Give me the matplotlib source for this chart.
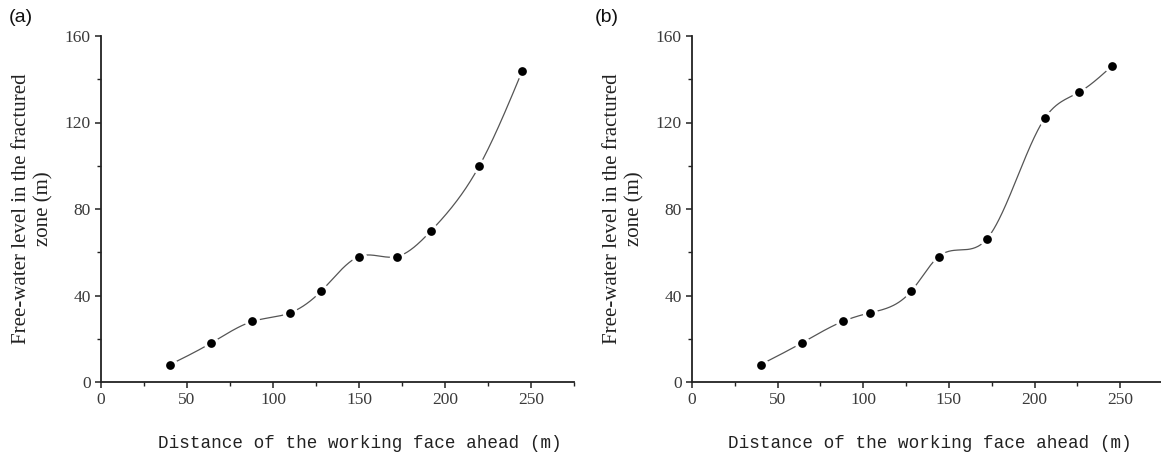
import numpy as np
import matplotlib
matplotlib.use("Agg")
import matplotlib.pyplot as plt
from matplotlib.ticker import MultipleLocator

# ---- data ----
dist_a = [40, 64, 88, 110, 128, 150, 172, 192, 220, 245]
level_a = [8, 18, 28, 32, 42, 58, 58, 70, 100, 144]
dist_b = [40, 64, 88, 104, 128, 144, 172, 206, 226, 245]
level_b = [8, 18, 28, 32, 42, 58, 66, 122, 134, 146]

x_ticks = [0, 50, 100, 150, 200, 250]
y_ticks = [0, 40, 80, 120, 160]
x_label = "Distance of the working face ahead (m)"
y_label = "Free-water level in the fractured\nzone (m)"
panels = ["(a)", "(b)"]


def natural_spline(x, y, n=400):
    x = np.asarray(x, float)
    y = np.asarray(y, float)
    m = len(x)
    h = np.diff(x)
    A = np.zeros((m, m))
    r = np.zeros(m)
    A[0, 0] = 1
    A[-1, -1] = 1
    for i in range(1, m - 1):
        A[i, i - 1] = h[i - 1]
        A[i, i] = 2 * (h[i - 1] + h[i])
        A[i, i + 1] = h[i]
        r[i] = 6 * ((y[i + 1] - y[i]) / h[i] - (y[i] - y[i - 1]) / h[i - 1])
    M = np.linalg.solve(A, r)
    xs = np.linspace(x[0], x[-1], n)
    idx = np.clip(np.searchsorted(x, xs) - 1, 0, m - 2)
    x0, x1 = x[idx], x[idx + 1]
    hh = x1 - x0
    t0 = x1 - xs
    t1 = xs - x0
    ys = (M[idx] * t0 ** 3 / (6 * hh) + M[idx + 1] * t1 ** 3 / (6 * hh)
          + (y[idx] / hh - M[idx] * hh / 6) * t0
          + (y[idx + 1] / hh - M[idx + 1] * hh / 6) * t1)
    return xs, ys


fig = plt.figure(figsize=(11.61, 4.59), dpi=100)
W, H = 1161, 459

axes_px = [(101, 574), (692, 1163)]
y_top, y_bot = 36, 382
xlabel_centers = [360, 930]
panel_x = [9, 595]

for k, (dx, dy) in enumerate([(dist_a, level_a), (dist_b, level_b)]):
    l, r = axes_px[k]
    ax = fig.add_axes([l / W, 1 - y_bot / H, (r - l) / W, (y_bot - y_top) / H])
    xs, ys = natural_spline(dx, dy)
    ax.plot(xs, ys, color="#555555", lw=0.9, zorder=2)
    ax.plot(dx, dy, 'o', ms=11, color="white", mec="none", zorder=3)
    ax.plot(dx, dy, 'o', ms=6.3, color="black", mec="none", zorder=4)
    ax.set_xlim(0, 275)
    ax.set_ylim(0, 160)
    ax.set_xticks(x_ticks)
    ax.set_yticks(y_ticks)
    ax.xaxis.set_minor_locator(MultipleLocator(25))
    ax.yaxis.set_minor_locator(MultipleLocator(20))
    for s in ["top", "right"]:
        ax.spines[s].set_visible(False)
    for s in ["left", "bottom"]:
        ax.spines[s].set_linewidth(1.3)
        ax.spines[s].set_color("#222222")
    ax.tick_params(which="major", direction="out", length=4.5, width=1.1,
                   color="#222222", labelsize=12.5, labelcolor="#3a3a3a", pad=3)
    ax.tick_params(which="minor", direction="out", length=3, width=1.0,
                   color="#222222")
    for lab in ax.get_xticklabels() + ax.get_yticklabels():
        lab.set_family("Liberation Serif")
    ax.set_ylabel(y_label, family="Liberation Serif", fontsize=15,
                  color="#222222", linespacing=1.25, labelpad=8)
    fig.text(xlabel_centers[k] / W, 1 - 443 / H, x_label,
             family="Liberation Mono", fontsize=12.7, color="#222222",
             ha="center", va="center")
    fig.text(panel_x[k] / W, 1 - 18 / H, panels[k], family="Liberation Sans",
             fontsize=14, color="#111111", ha="left", va="center")

fig.savefig("out.png", dpi=100)
